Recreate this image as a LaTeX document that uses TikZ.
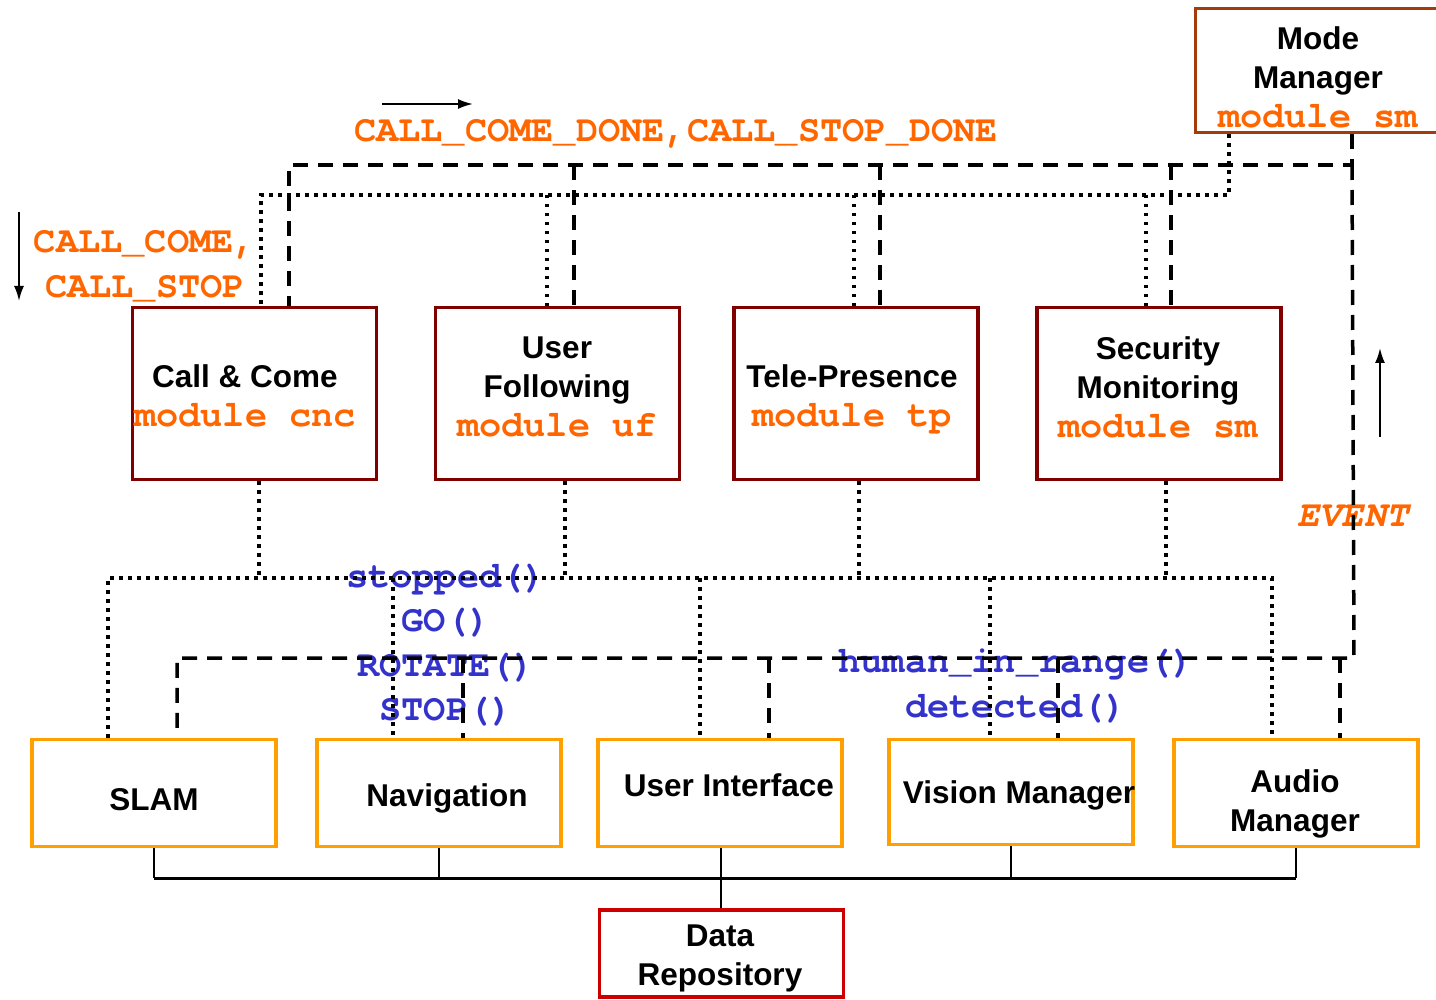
\documentclass[tikz,border=0pt]{standalone}
\usepackage{fontspec}
\setmainfont{Liberation Sans}
\newfontfamily\monofont{TeX Gyre Cursor}
\usetikzlibrary{arrows.meta}

\definecolor{msgorange}{RGB}{255,102,0}
\definecolor{callblue}{RGB}{51,51,204}
\definecolor{modred}{RGB}{128,0,0}
\definecolor{mgrrust}{RGB}{163,60,10}
\definecolor{svcorange}{RGB}{255,160,0}
\definecolor{datared}{RGB}{204,0,0}

% orange monospace module tag inside a box title
\newcommand\modtag[1]{{\monofont\bfseries\fontsize{37}{39}\selectfont\color{msgorange}#1}}

\tikzset{
  modbox/.style={draw=modred, line width=3.5pt, minimum width=244pt, minimum height=172pt, inner sep=0pt},
  mgrbox/.style={draw=mgrrust, line width=3.5pt, minimum width=245pt, minimum height=124pt, inner sep=0pt},
  svcbox/.style={draw=svcorange, line width=3.5pt, minimum width=244pt, minimum height=107pt, inner sep=0pt},
  repobox/.style={draw=datared, line width=3.5pt, minimum width=244pt, minimum height=87pt, inner sep=0pt},
  title/.style={font=\bfseries\fontsize{31.5}{39}\selectfont, align=center, inner sep=0pt},
  msg/.style={font=\monofont\bfseries\fontsize{37}{45}\selectfont, text=msgorange, align=center, inner sep=0pt},
  call/.style={font=\monofont\bfseries\fontsize{37}{44.5}\selectfont, text=callblue, align=center, inner sep=0pt},
  cmdline/.style={line width=3.5pt, dash pattern=on 15pt off 10pt},
  evline/.style={line width=3.5pt, dash pattern=on 3.5pt off 5.5pt},
  dataline/.style={line width=2pt},
  databus/.style={line width=3pt},
  flow/.style={line width=2pt, -{Latex[length=15pt,width=10pt]}}
}

\begin{document}
\begin{tikzpicture}[x=1pt, y=-1pt]
\useasboundingbox (0,0) rectangle (1436,1000);

% ---- boxes ----
\node[mgrbox] (mm) at (1318,70.5) {};
\node[modbox] (cnc) at (254.5,393.5) {};
\node[modbox] (uf)  at (557.5,393.5) {};
\node[modbox] (tp)  at (856,393.5) {};
\node[modbox] (sm)  at (1159,393.5) {};
\node[svcbox] (slam) at (154,793) {};
\node[svcbox] (nav)  at (439,793) {};
\node[svcbox] (ui)   at (720,793) {};
\node[svcbox, minimum height=105pt] (vis) at (1011,792) {};
\node[svcbox] (aud)  at (1296,793) {};
\node[repobox] (repo) at (721.5,953.5) {};

% ---- box titles ----
\node[title] (mmt)  at (1318,77)  {Mode\\Manager\\\modtag{module sm}};
\node[title] (cnct) at (245,396)  {Call \& Come\\\modtag{module cnc}};
\node[title] (uft)  at (557,387)  {User\\Following\\\modtag{module uf}};
\node[title] (tpt)  at (852,399)  {Tele-Presence\\\modtag{module tp}};
\node[title] (smt)  at (1158,387) {Security\\Monitoring\\\modtag{module sm}};
\node[title] (slamt) at (154,800) {SLAM};
\node[title] (navt)  at (447,798) {Navigation};
\node[title] (uit)   at (729,785) {User Interface};
\node[title] (vist)  at (1019,795) {Vision Manager};
\node[title] (audt)  at (1295,804) {Audio\\Manager};
\node[title] (repot) at (720,958) {Data\\Repository};

% ---- message labels ----
\node[msg] (donemsg) at (676,134) {CALL\_COME\_DONE,CALL\_STOP\_DONE};
\node[msg] (callmsg) at (145,266) {CALL\_COME,\\CALL\_STOP};
\node[msg, font=\monofont\bfseries\itshape\fontsize{37}{45}\selectfont] (evmsg) at (1353,516) {EVENT};
\node[call] (navcalls) at (446,645) {stopped()\\GO()\\ROTATE()\\STOP()};
\node[call] (viscalls) at (1016,686) {human\_in\_range()\\detected()};

% ---- direction arrows ----
\coordinate (dnS) at (19,212);  \coordinate (dnE) at (19,301);
\coordinate (rtS) at (382,104); \coordinate (rtE) at (473,104);
\coordinate (upS) at (1380,437); \coordinate (upE) at (1380,348);
\draw[flow] (dnS) -- (dnE);
\draw[flow] (rtS) -- (rtE);
\draw[flow] (upS) -- (upE);

% ---- command bus (dashed) from the mode manager ----
\coordinate (cmdW) at (289,165);
\coordinate (cmdE) at (1352,165);
\coordinate (evtE) at (1354,658);
\coordinate (evtW) at (177,658);
\draw[cmdline] (mm.south -| cmdE) -- (cmdE) -- (cmdW) -- (cnc.north -| cmdW);
\draw[cmdline] (cmdE) -- (evtE) -- (evtW) -- (slam.north -| evtW);
\draw[cmdline] (574,0 |- cmdW) -- (uf.north -| 574,0);
\draw[cmdline] (880,0 |- cmdW) -- (tp.north -| 880,0);
\draw[cmdline] (1171,0 |- cmdW) -- (sm.north -| 1171,0);
\draw[cmdline] (463,0 |- evtW) -- (nav.north -| 463,0);
\draw[cmdline] (769,0 |- evtW) -- (ui.north -| 769,0);
\draw[cmdline] (1058,0 |- evtW) -- (vis.north -| 1058,0);
\draw[cmdline] (1340,0 |- evtW) -- (aud.north -| 1340,0);

% ---- status bus (dotted) ----
\coordinate (stW) at (261,195);
\coordinate (stE) at (1229,195);
\draw[evline] (mm.south -| stE) -- (stE) -- (stW) -- (cnc.north -| stW);
\draw[evline] (547,0 |- stW) -- (uf.north -| 547,0);
\draw[evline] (854,0 |- stW) -- (tp.north -| 854,0);
\draw[evline] (1146,0 |- stW) -- (sm.north -| 1146,0);

% ---- service bus (dotted) between modules and services ----
\coordinate (obW) at (108,578);
\coordinate (obE) at (1272,578);
\draw[evline] (slam.north -| obW) -- (obW) -- (obE) -- (aud.north -| obE);
\draw[evline] (cnc.south -| 259,0) -- (259,0 |- obW);
\draw[evline] (uf.south -| 565,0) -- (565,0 |- obW);
\draw[evline] (tp.south -| 859,0) -- (859,0 |- obW);
\draw[evline] (sm.south -| 1166,0) -- (1166,0 |- obW);
\draw[evline] (393,0 |- obW) -- (nav.north -| 393,0);
\draw[evline] (700,0 |- obW) -- (ui.north -| 700,0);
\draw[evline] (990,0 |- obW) -- (vis.north -| 990,0);

% ---- data repository links ----
\coordinate (repoBus) at (721,878);
\draw[dataline] (slam.south) -- (slam.south |- repoBus);
\draw[dataline] (nav.south) -- (nav.south |- repoBus);
\draw[dataline] (vis.south) -- (vis.south |- repoBus);
\draw[dataline] (aud.south) -- (aud.south |- repoBus);
\draw[dataline] (ui.south -| repoBus) -- (repo.north -| repoBus);
\draw[databus] (slam.south |- repoBus) -- (aud.south |- repoBus);
\end{tikzpicture}
\end{document}
